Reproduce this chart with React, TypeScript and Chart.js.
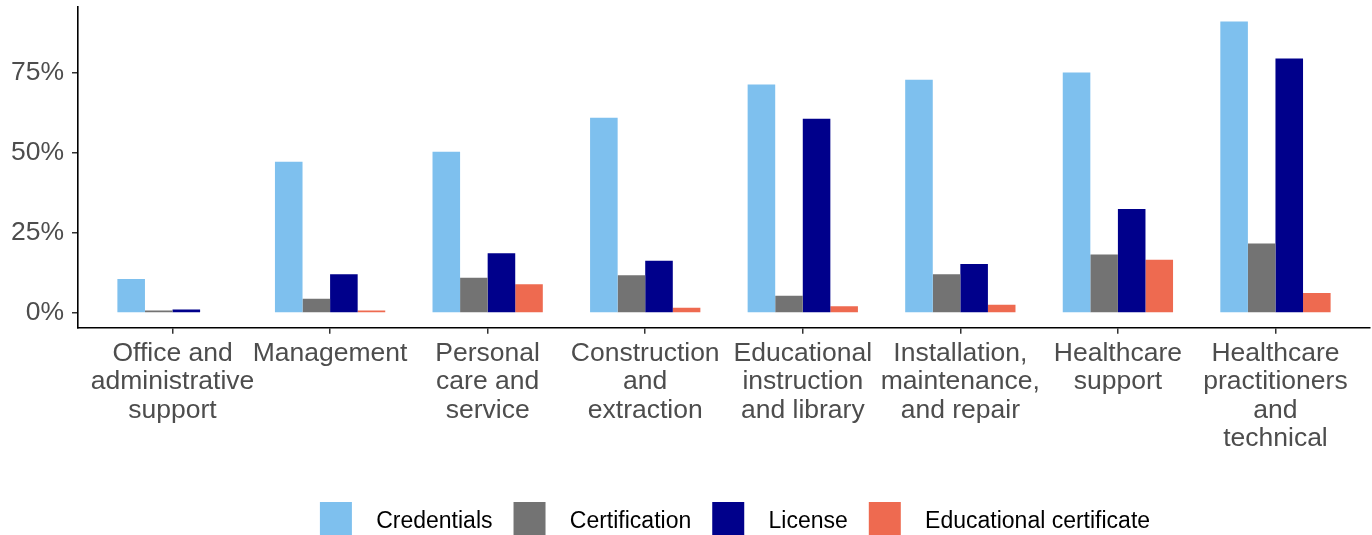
import { useEffect, useRef } from 'react';
import { Chart, registerables } from 'chart.js';

Chart.register(...registerables);

const categories: string[][] = [
  ['Office and', 'administrative', 'support'],
  ['Management'],
  ['Personal', 'care and', 'service'],
  ['Construction', 'and', 'extraction'],
  ['Educational', 'instruction', 'and library'],
  ['Installation,', 'maintenance,', 'and repair'],
  ['Healthcare', 'support'],
  ['Healthcare', 'practitioners', 'and', 'technical'],
];

const seriesNames = ['Credentials', 'Certification', 'License', 'Educational certificate'];
const credentials = [10.6, 47.2, 50.3, 60.9, 71.3, 72.8, 75.0, 90.9];
const certification = [0.8, 4.5, 11.0, 11.8, 5.4, 12.1, 18.3, 21.7];
const license = [1.1, 12.1, 18.7, 16.3, 60.6, 15.3, 32.5, 79.4];
const educationalCertificate: (number | null)[] = [null, 0.8, 9.0, 1.7, 2.1, 2.6, 16.6, 6.3];
const yTicks = [0, 25, 50, 75];

const seriesColors = ['#7EC0EE', '#737373', '#00008B', '#EE6A50'];
const FONT = '"Liberation Sans", Arial, sans-serif';

export default function App() {
  const ref = useRef<HTMLCanvasElement | null>(null);

  useEffect(() => {
    document.body.style.margin = '0';
    const canvas = ref.current;
    if (!canvas) return;
    const series = [credentials, certification, license, educationalCertificate];
    const legendShift = {
      id: 'legendShift',
      afterLayout(chart: any) {
        if (chart.legend) {
          chart.legend.left += 11;
          chart.legend.right += 11;
        }
      },
    };
    const chart = new Chart(canvas, {
      type: 'bar',
      data: {
        datasets: series.map((vals, si) => ({
          label: seriesNames[si],
          data: vals.map((v, i) => ({ x: i, y: v })) as any,
          backgroundColor: seriesColors[si],
          borderWidth: 0,
          categoryPercentage: 0.7,
          barPercentage: 1.0,
        })),
      },
      plugins: [legendShift],
      options: {
        animation: false,
        responsive: false,
        devicePixelRatio: 1,
        layout: { padding: { top: 7, right: 2, left: 0, bottom: 0 } },
        plugins: {
          tooltip: { enabled: false },
          legend: {
            position: 'bottom',
            fullSize: false,
            maxHeight: 54,
            labels: {
              boxWidth: 32,
              boxHeight: 40,
              padding: 21,
              color: '#000000',
              font: { family: FONT, size: 23 },
              generateLabels: (c: any) =>
                Chart.defaults.plugins.legend.labels
                  .generateLabels(c)
                  .map((l: any) => ({ ...l, text: '  ' + l.text, lineWidth: 0 })),
            },
          },
        },
        scales: {
          x: {
            type: 'linear',
            min: -0.6,
            max: 7.6,
            offset: false,
            afterBuildTicks: (scale: any) => {
              scale.ticks = categories.map((_, i) => ({ value: i }));
            },
            afterFit: (scale: any) => {
              scale.height = 153.3;
              scale.paddingLeft = 0;
              scale.paddingRight = 0;
            },
            grid: {
              offset: false,
              drawOnChartArea: false,
              drawTicks: true,
              tickLength: 6,
              color: '#333333',
              lineWidth: 1.5,
            },
            border: { display: true, color: '#000000', width: 1.6 },
            ticks: {
              autoSkip: false,
              maxRotation: 0,
              minRotation: 0,
              padding: 6,
              color: '#4D4D4D',
              font: { family: FONT, size: 26.5, lineHeight: 1.064 },
              callback: (v: any) => categories[Math.round(Number(v))] ?? '',
            },
          },
          y: {
            type: 'linear',
            min: -4.55,
            max: 95.45,
            afterBuildTicks: (scale: any) => {
              scale.ticks = yTicks.map((v) => ({ value: v }));
            },
            afterFit: (scale: any) => {
              scale.width = 78;
              scale.paddingTop = 0;
              scale.paddingBottom = 0;
            },
            grid: {
              drawOnChartArea: false,
              drawTicks: true,
              tickLength: 6,
              color: '#333333',
              lineWidth: 1.5,
            },
            border: { display: true, color: '#000000', width: 1.6 },
            ticks: {
              padding: 8,
              color: '#4D4D4D',
              font: { family: FONT, size: 26.5 },
              callback: (v: any) => `${v}%`,
            },
          },
        },
      },
    } as any);
    return () => chart.destroy();
  }, []);

  return (
    <div style={{ width: 1372, height: 535 }}>
      <canvas ref={ref} width={1372} height={535} style={{ display: 'block' }} />
    </div>
  );
}
